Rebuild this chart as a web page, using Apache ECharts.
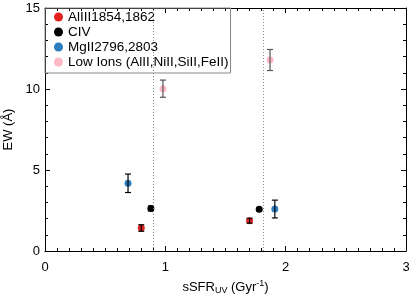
<!DOCTYPE html>
<html><head><meta charset="utf-8">
<script src="https://cdn.jsdelivr.net/npm/echarts@6/dist/echarts.min.js"></script>
<style>html,body{margin:0;padding:0;background:#fff}#c{width:415px;height:297px}</style>
</head><body><div id="c"></div>
<script>
var seriesNames = ['AlIII1854,1862', 'CIV', 'MgII2796,2803', 'Low Ions (AlII,NiII,SiII,FeII)'];
var seriesColors = ['#e3221f', '#000000', '#2b7fc1', '#ffb8c6'];
var alX = [0.80, 1.70], alY = [1.42, 1.87], alErr = [0.20, 0.15];
var civX = [0.88, 1.78], civY = [2.63, 2.57], civErr = [0.15, 0.08];
var mgX = [0.69, 1.91], mgY = [4.18, 2.59], mgErr = [0.57, 0.55];
var lowX = [0.98, 1.87], lowY = [10.02, 11.79], lowErr = [0.53, 0.65];
var refLines = [0.90, 1.81];
var xTicks = [0, 1, 2, 3];
var yTicks = [0, 5, 10, 15];

var groups = [[alX, alY, alErr], [civX, civY, civErr], [mgX, mgY, mgErr], [lowX, lowY, lowErr]];
var FONT = 'Liberation Sans';
var series = [];
groups.forEach(function (g, i) {
  var pts = g[0].map(function (x, k) { return [x, g[1][k], g[2][k]]; });
  series.push({
    name: seriesNames[i], type: 'scatter', symbol: 'circle', symbolSize: 7,
    itemStyle: { color: seriesColors[i], opacity: 1 },
    data: pts, z: 3,
    markLine: i === 0 ? {
      silent: true, symbol: 'none', label: { show: false },
      lineStyle: { color: '#888', type: [1, 2], width: 1 },
      data: refLines.map(function (v) { return { xAxis: v }; })
    } : undefined
  });
  series.push({
    type: 'custom', z: 4, silent: true,
    data: pts,
    renderItem: function (params, api) {
      var x = api.value(0), y = api.value(1), e = api.value(2);
      var top = api.coord([x, y + e]), bot = api.coord([x, y - e]);
      var c = i === 3 ? '#555' : '#000';
      var w = 3;
      return { type: 'group', children: [
        { type: 'line', shape: { x1: top[0], y1: top[1], x2: bot[0], y2: bot[1] }, style: { stroke: c, lineWidth: 1.2 } },
        { type: 'line', shape: { x1: top[0] - w, y1: top[1], x2: top[0] + w, y2: top[1] }, style: { stroke: c, lineWidth: 1.2 } },
        { type: 'line', shape: { x1: bot[0] - w, y1: bot[1], x2: bot[0] + w, y2: bot[1] }, style: { stroke: c, lineWidth: 1.2 } }
      ]};
    }
  });
});

function axisBase(show) {
  return {
    axisLine: { show: true, onZero: false, lineStyle: { color: '#000', width: 1 } },
    axisTick: { show: true, inside: true, length: 5, lineStyle: { color: '#000' } },
    minorTick: { show: true, length: 3, lineStyle: { color: '#000' } },
    splitLine: { show: false },
    axisLabel: { show: show, color: '#000', fontFamily: FONT, fontSize: 13 }
  };
}
var xb = axisBase(true), xt = axisBase(false), yl = axisBase(true), yr = axisBase(false);
xb.minorTick.splitNumber = 10; xt.minorTick.splitNumber = 10;
yl.minorTick.splitNumber = 5; yr.minorTick.splitNumber = 5;
xb.axisLabel.margin = 10; yl.axisLabel.margin = 5;

var chart = echarts.init(document.getElementById('c'));
chart.setOption({
  animation: false,
  grid: { left: 45, right: 9, top: 8, bottom: 46, containLabel: false, outerBoundsMode: 'none' },
  legend: {
    data: seriesNames, orient: 'vertical', left: 45, top: 8,
    icon: 'circle', itemWidth: 9, itemHeight: 9, itemGap: 1,
    padding: [2, 2, 4, 9], borderColor: '#888', borderWidth: 1,
    textStyle: { fontFamily: FONT, fontSize: 13.5, color: '#000' }
  },
  xAxis: [
    Object.assign({ type: 'value', min: xTicks[0], max: xTicks[xTicks.length - 1], interval: 1, position: 'bottom',
      name: '{a|sSFR}{s|UV}{a| (Gyr}{p|-1}{a|)}', nameLocation: 'middle', nameGap: 28,
      nameTextStyle: { rich: {
        a: { fontFamily: FONT, fontSize: 13, color: '#000', verticalAlign: 'middle', lineHeight: 16 },
        s: { fontFamily: FONT, fontSize: 9, color: '#000', verticalAlign: 'bottom', lineHeight: 9 },
        p: { fontFamily: FONT, fontSize: 9, color: '#000', verticalAlign: 'top', lineHeight: 10 } } } }, xb),
    Object.assign({ type: 'value', min: 0, max: 3, interval: 1, position: 'top' }, xt)
  ],
  yAxis: [
    Object.assign({ type: 'value', min: yTicks[0], max: yTicks[yTicks.length - 1], interval: 5, position: 'left',
      name: 'EW (Å)', nameLocation: 'middle', nameGap: 24,
      nameTextStyle: { fontFamily: FONT, fontSize: 13, color: '#000' } }, yl),
    Object.assign({ type: 'value', min: 0, max: 15, interval: 5, position: 'right' }, yr)
  ],
  series: series
});
</script></body></html>
